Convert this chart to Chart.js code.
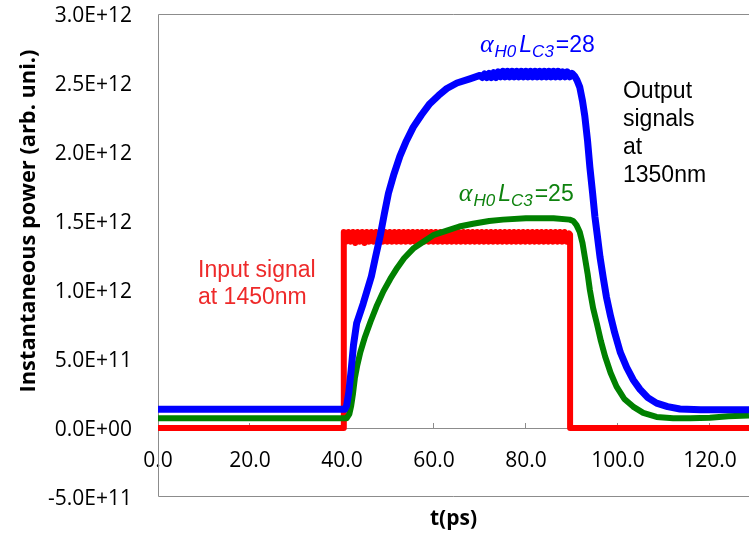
<!DOCTYPE html>
<html>
<head>
<meta charset="utf-8">
<script src="https://cdn.jsdelivr.net/npm/chart.js@4.4.1/dist/chart.umd.min.js"></script>
<style>
  html, body { margin: 0; padding: 0; background: #ffffff; overflow: hidden; }
  #wrap { position: relative; width: 749px; height: 538px; }
</style>
</head>
<body>
<div id="wrap"><canvas id="c" width="749" height="538"></canvas></div>
<script>
// Power values are given in units of 1e12 (arb. units); time in ps.
const E12 = 1e12;

// Input signal at 1450 nm (square pulse, 40.4 ps – 89.6 ps)
const redPlateauStart = 40.9;
const redPlateauStep = 0.5;
const redPlateau = [
  1.35, 1.42, 1.35, 1.42, 1.34, 1.42, 1.35, 1.42, 1.34, 1.42,
  1.35, 1.42, 1.35, 1.42, 1.35, 1.42, 1.35, 1.42, 1.35, 1.42,
  1.35, 1.42, 1.35, 1.42, 1.35, 1.42, 1.35, 1.42, 1.35, 1.42,
  1.35, 1.42, 1.35, 1.42, 1.35, 1.42, 1.35, 1.42, 1.35, 1.42,
  1.35, 1.42, 1.35, 1.42, 1.35, 1.42, 1.35, 1.42, 1.35, 1.42,
  1.35, 1.42, 1.35, 1.42, 1.35, 1.42, 1.35, 1.42, 1.35, 1.42,
  1.35, 1.42, 1.35, 1.42, 1.35, 1.42, 1.35, 1.42, 1.35, 1.42,
  1.35, 1.42, 1.35, 1.42, 1.35, 1.42, 1.35, 1.42, 1.35, 1.42,
  1.35, 1.42, 1.35, 1.42, 1.35, 1.42, 1.35, 1.42, 1.35, 1.42,
  1.35, 1.42, 1.35, 1.42, 1.35, 1.42, 1.35, 1.41
];
const tRedEdges = [0, 40.4, 40.4];
const pRedEdges = [0, 0, 1.42];
const tRedTail = [89.6, 89.6, 128.5];
const pRedTail = [1.40, 0, 0];

// Output signal at 1350 nm, alpha_H0 L_C3 = 28
const tBlue = [
  0, 40.6, 41.0, 41.5, 42.0, 42.5, 43.2, 44.0, 44.6, 45.5,
  46.4, 47.3, 48.3, 49.2, 50.1, 51.3, 52.6, 54.0, 55.5, 57.3,
  59.1, 61.0, 62.8, 65.0, 67.8,
  70.0, 70.5, 71.0, 71.5, 72.0, 72.5, 73.0, 73.5, 74.0, 74.5,
  75.0, 75.5, 76.0, 76.5, 77.0, 77.5, 78.0, 78.5, 79.0, 79.5,
  80.0, 80.5, 81.0, 81.5, 82.0, 82.5, 83.0, 83.5, 84.0, 84.5,
  85.0, 85.5, 86.0, 86.5, 87.0, 87.5, 88.0, 88.5, 89.0, 89.5,
  90.0,
  90.6, 91.1, 91.7, 92.3, 92.8, 93.4, 93.9, 94.5, 95.0, 95.5,
  96.1, 96.8, 97.5, 98.4, 99.3, 100.5, 101.9, 103.3, 104.8, 106.5,
  108.4, 110.8, 113.5, 118.0, 128.5
];
const pBlue = [
  0.135, 0.135, 0.16, 0.26, 0.42, 0.60, 0.76, 0.84, 0.90, 1.00,
  1.10, 1.24, 1.39, 1.55, 1.70, 1.84, 1.97, 2.08, 2.18, 2.27,
  2.35, 2.41, 2.46, 2.50, 2.53,
  2.555, 2.54, 2.565, 2.54, 2.57, 2.54, 2.575, 2.54, 2.58, 2.545,
  2.585, 2.545, 2.585, 2.545, 2.585, 2.545, 2.585, 2.545, 2.585, 2.545,
  2.585, 2.545, 2.585, 2.545, 2.585, 2.545, 2.585, 2.545, 2.585, 2.545,
  2.585, 2.545, 2.585, 2.545, 2.585, 2.545, 2.58, 2.545, 2.58, 2.545,
  2.57,
  2.55, 2.52, 2.47, 2.37, 2.26, 2.08, 1.89, 1.70, 1.53, 1.40,
  1.24, 1.09, 0.95, 0.81, 0.69, 0.55, 0.44, 0.35, 0.28, 0.22,
  0.18, 0.155, 0.138, 0.132, 0.132
];

// Output signal at 1350 nm, alpha_H0 L_C3 = 25
const tGreen = [
  0, 41.0, 41.6, 42.0, 42.4, 42.8, 43.3, 44.0, 45.0, 46.2,
  47.5, 49.0, 50.5, 52.0, 53.5, 55.5, 57.7, 60.0, 62.8, 65.5,
  68.5, 72.0, 75.0, 80.0, 86.0, 89.5, 90.3, 91.0, 91.7, 92.3,
  92.8, 93.4, 93.9, 94.6, 95.4, 96.3, 97.2, 98.4, 99.7, 101.4,
  103.3, 105.5, 108.4, 112.0, 115.7, 120.0, 124.0, 128.5
];
const pGreen = [
  0.07, 0.07, 0.10, 0.16, 0.25, 0.36, 0.45, 0.55, 0.66, 0.77,
  0.88, 0.99, 1.08, 1.16, 1.23, 1.30, 1.35, 1.40, 1.43, 1.46,
  1.48, 1.50, 1.51, 1.52, 1.52, 1.51, 1.50, 1.47, 1.42, 1.34,
  1.24, 1.12, 1.00, 0.87, 0.76, 0.63, 0.52, 0.40, 0.30, 0.21,
  0.155, 0.11, 0.08, 0.07, 0.07, 0.075, 0.085, 0.09
];

// Axis ranges and ticks
const tMin = 0, tMax = 128.5, tStep = 20;
const pMin = -0.5, pMax = 3.0, pStep = 0.5;

function toPoints(ts, ps) {
  return ts.map((t, i) => ({ x: t, y: ps[i] * E12 }));
}
function redPoints() {
  const pts = toPoints(tRedEdges, pRedEdges);
  redPlateau.forEach((v, i) => pts.push({ x: redPlateauStart + i * redPlateauStep, y: v * E12 }));
  return pts.concat(toPoints(tRedTail, pRedTail));
}

// "3.0E+12" style labels
function sciLabel(v) {
  const [m, e] = Number(v).toExponential(1).split('e');
  const sign = e[0] === '-' ? '-' : '+';
  const digits = e.replace(/^[+-]/, '').padStart(2, '0');
  return m + 'E' + sign + digits;
}

const TICK_FONT = { family: '"Open Sans", sans-serif', size: 21 };
const AXIS_GREY = '#8c8c8c';

// Plot frame (left, top and bottom edges)
const framePlugin = {
  id: 'frame',
  beforeDatasetsDraw(chart) {
    const { ctx, chartArea: a } = chart;
    ctx.save();
    ctx.strokeStyle = AXIS_GREY;
    ctx.lineWidth = 1;
    ctx.beginPath();
    ctx.moveTo(a.right, a.top + 0.5);
    ctx.lineTo(a.left + 0.5, a.top + 0.5);
    ctx.lineTo(a.left + 0.5, a.bottom - 0.5);
    ctx.lineTo(a.right, a.bottom - 0.5);
    ctx.stroke();
    ctx.restore();
  }
};

// Text pieces: [text, font, baseline shift, gap after]
function drawRich(ctx, x, y, parts) {
  for (const [text, font, dy, gap] of parts) {
    ctx.font = font;
    ctx.fillText(text, x, y + dy);
    x += ctx.measureText(text).width + gap;
  }
}

const SANS = '"Liberation Sans", Arial, sans-serif';
const SERIF = '"Liberation Serif", "DejaVu Serif", serif';
const notesPlugin = {
  id: 'notes',
  afterDatasetsDraw(chart) {
    const { ctx } = chart;
    const xs = chart.scales.x, ys = chart.scales.y;
    const px = t => xs.getPixelForValue(t);
    const py = v => ys.getPixelForValue(v * E12);
    ctx.save();
    ctx.textAlign = 'left';
    ctx.textBaseline = 'alphabetic';
    const alpha = 'italic 26px ' + SERIF;
    const big = 'italic 23px ' + SANS, small = 'italic 17px ' + SANS, reg = '23px ' + SANS;

    ctx.fillStyle = '#0000ff';
    drawRich(ctx, px(70.0), py(2.725), [
      ['\u03b1', alpha, 0, 1], ['H0', small, 5, 3], ['L', big, 0, 0], ['C3', small, 5, 2], ['=28', reg, 0, 0]
    ]);

    ctx.fillStyle = '#0e820e';
    drawRich(ctx, px(65.4), py(1.645), [
      ['\u03b1', alpha, 0, 1], ['H0', small, 5, 3], ['L', big, 0, 0], ['C3', small, 5, 2], ['=25', reg, 0, 0]
    ]);

    ctx.fillStyle = '#000000';
    ctx.font = reg;
    const outLines = ['Output', 'signals', 'at', '1350nm'];
    outLines.forEach((s, i) => ctx.fillText(s, px(101.1), py(2.39) + i * 28));

    ctx.fillStyle = '#ee2a2a';
    ctx.fillText('Input signal', px(8.7), py(1.094));
    ctx.fillText('at 1450nm', px(8.7), py(1.094) + 27);
    ctx.restore();
  }
};

// Vertical axis title
const yTitlePlugin = {
  id: 'yTitle',
  afterDraw(chart) {
    const { ctx } = chart;
    ctx.save();
    ctx.translate(29, 221);
    ctx.rotate(-Math.PI / 2);
    ctx.fillStyle = '#000000';
    ctx.font = 'bold 21.8px "Open Sans", sans-serif';
    ctx.textAlign = 'center';
    ctx.textBaseline = 'middle';
    ctx.fillText('Instantaneous power (arb. uni.)', 0, 0);
    ctx.restore();
  }
};

function build() {
  new Chart(document.getElementById('c'), {
    type: 'line',
    data: {
      datasets: [
        { label: 'alpha_H0 L_C3 = 28', data: toPoints(tBlue, pBlue), borderColor: '#0000ff', borderWidth: 7 },
        { label: 'alpha_H0 L_C3 = 25', data: toPoints(tGreen, pGreen), borderColor: '#008000', borderWidth: 6 },
        { label: 'Input 1450nm', data: redPoints(), borderColor: '#ff0000', borderWidth: 6 }
      ]
    },
    options: {
      responsive: false,
      devicePixelRatio: 1,
      animation: false,
      parsing: false,
      elements: {
        point: { radius: 0, hoverRadius: 0 },
        line: { tension: 0, fill: false, borderJoinStyle: 'round', borderCapStyle: 'butt' }
      },
      layout: { padding: { top: 14, left: 0, right: 0, bottom: 0 } },
      plugins: { legend: { display: false }, tooltip: { enabled: false } },
      scales: {
        x: {
          type: 'linear',
          position: { y: 0 },
          min: tMin, max: tMax,
          grid: { display: true, drawOnChartArea: false, drawTicks: true, tickLength: -6, color: AXIS_GREY, lineWidth: 1 },
          border: { display: true, color: AXIS_GREY, width: 1 },
          ticks: {
            stepSize: tStep, includeBounds: false, autoSkip: false, maxRotation: 0,
            padding: 26, color: '#000000', font: TICK_FONT,
            callback: v => Number(v).toFixed(1)
          },
          afterFit: s => { s.paddingLeft = 0; s.paddingRight = 0; }
        },
        xTitle: {
          type: 'linear',
          position: 'bottom',
          min: tMin, max: tMax,
          grid: { display: false, drawTicks: false },
          border: { display: false },
          ticks: { display: false },
          title: {
            display: true, text: 't(ps)', color: '#000000',
            font: { family: '"Open Sans", sans-serif', size: 21, weight: 'bold' },
            padding: { top: 0, bottom: 6 }
          },
          afterFit: s => { s.height = 41; s.paddingLeft = 0; s.paddingRight = 0; }
        },
        y: {
          type: 'linear',
          position: 'left',
          min: pMin * E12, max: pMax * E12,
          grid: { display: false, drawTicks: false },
          border: { display: false },
          ticks: {
            stepSize: pStep * E12, padding: 26, labelOffset: 2, color: '#000000', font: TICK_FONT,
            callback: v => sciLabel(v)
          },
          afterFit: s => { s.width = 158; s.paddingTop = 0; s.paddingBottom = 0; }
        }
      }
    },
    plugins: [framePlugin, notesPlugin, yTitlePlugin]
  });
}

if (document.fonts && document.fonts.load) {
  Promise.all([
    document.fonts.load('21px "Open Sans"'),
    document.fonts.load('bold 21px "Open Sans"'),
    document.fonts.load('23px "Liberation Sans"'),
    document.fonts.load('italic 23px "Liberation Sans"'),
    document.fonts.load('italic 26px "Liberation Serif"')
  ]).then(build, build);
} else {
  build();
}
</script>
</body>
</html>
